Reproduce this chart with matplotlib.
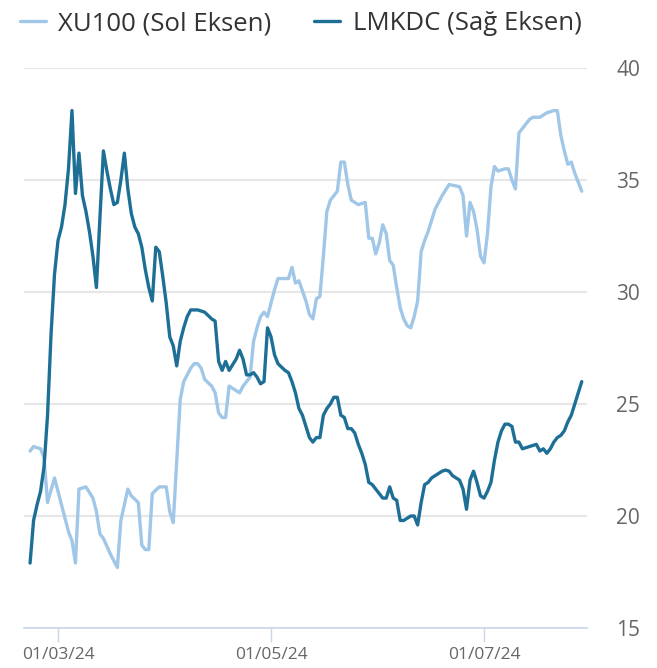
import pandas as pd
import matplotlib
matplotlib.use("Agg")
import matplotlib.pyplot as plt
import matplotlib.dates as mdates

# XU100 (left axis)
xu100_dates = [
    "2024-02-22", "2024-02-23", "2024-02-25", "2024-02-26", "2024-02-27", "2024-02-29",
    "2024-03-04", "2024-03-05", "2024-03-06", "2024-03-07", "2024-03-09", "2024-03-11",
    "2024-03-12", "2024-03-13", "2024-03-14", "2024-03-16", "2024-03-18", "2024-03-19",
    "2024-03-20", "2024-03-21", "2024-03-22", "2024-03-24", "2024-03-25", "2024-03-26",
    "2024-03-27", "2024-03-28", "2024-03-30", "2024-04-01", "2024-04-02", "2024-04-03",
    "2024-04-05", "2024-04-06", "2024-04-07", "2024-04-08", "2024-04-09", "2024-04-10",
    "2024-04-11", "2024-04-12", "2024-04-14", "2024-04-15", "2024-04-16", "2024-04-17",
    "2024-04-18", "2024-04-19", "2024-04-21", "2024-04-22", "2024-04-23", "2024-04-24",
    "2024-04-25", "2024-04-26", "2024-04-27", "2024-04-28", "2024-04-29", "2024-04-30",
    "2024-05-01", "2024-05-02", "2024-05-03", "2024-05-06", "2024-05-07", "2024-05-08",
    "2024-05-09", "2024-05-11", "2024-05-12", "2024-05-13", "2024-05-14", "2024-05-15",
    "2024-05-16", "2024-05-17", "2024-05-18", "2024-05-19", "2024-05-20", "2024-05-21",
    "2024-05-22", "2024-05-23", "2024-05-24", "2024-05-26", "2024-05-28", "2024-05-29",
    "2024-05-30", "2024-05-31", "2024-06-01", "2024-06-02", "2024-06-03", "2024-06-04",
    "2024-06-05", "2024-06-06", "2024-06-07", "2024-06-08", "2024-06-09", "2024-06-10",
    "2024-06-11", "2024-06-12", "2024-06-13", "2024-06-14", "2024-06-15", "2024-06-17",
    "2024-06-19", "2024-06-21", "2024-06-24", "2024-06-25", "2024-06-26", "2024-06-27",
    "2024-06-28", "2024-06-29", "2024-06-30", "2024-07-01", "2024-07-02", "2024-07-03",
    "2024-07-04", "2024-07-05", "2024-07-07", "2024-07-08", "2024-07-09", "2024-07-10",
    "2024-07-11", "2024-07-12", "2024-07-14", "2024-07-15", "2024-07-17", "2024-07-19",
    "2024-07-21", "2024-07-22", "2024-07-23", "2024-07-24", "2024-07-25", "2024-07-26",
    "2024-07-27", "2024-07-28", "2024-07-29",
]
xu100_values = [
    22.9, 23.1, 23.0, 22.6, 20.6, 21.7,
    19.3, 18.9, 17.9, 21.2, 21.3, 20.8,
    20.2, 19.2, 19.0, 18.3, 17.7, 19.8,
    20.5, 21.2, 20.9, 20.6, 18.7, 18.5,
    18.5, 21.0, 21.3, 21.3, 20.2, 19.7,
    25.2, 26.0, 26.3, 26.6, 26.8, 26.8,
    26.6, 26.1, 25.8, 25.5, 24.6, 24.4,
    24.4, 25.8, 25.6, 25.5, 25.8, 26.0,
    26.2, 27.8, 28.4, 28.9, 29.1, 28.9,
    29.5, 30.1, 30.6, 30.6, 31.1, 30.4,
    30.5, 29.6, 29.0, 28.8, 29.7, 29.8,
    31.6, 33.6, 34.1, 34.3, 34.5, 35.8,
    35.8, 34.8, 34.1, 33.9, 34.0, 32.4,
    32.4, 31.7, 32.2, 33.0, 32.6, 31.4,
    31.2, 30.2, 29.3, 28.8, 28.5, 28.4,
    28.9, 29.6, 31.8, 32.3, 32.7, 33.7,
    34.3, 34.8, 34.7, 34.3, 32.5, 34.0,
    33.6, 32.8, 31.6, 31.3, 32.6, 34.7,
    35.6, 35.4, 35.5, 35.5, 35.0, 34.6,
    37.1, 37.3, 37.7, 37.8, 37.8, 38.0,
    38.1, 38.1, 37.0, 36.3, 35.7, 35.8,
    35.3, 34.9, 34.5,
]

# LMKDC (right axis)
lmkdc_dates = [
    "2024-02-22", "2024-02-23", "2024-02-24", "2024-02-25", "2024-02-26", "2024-02-27",
    "2024-02-28", "2024-02-29", "2024-03-01", "2024-03-02", "2024-03-03", "2024-03-04",
    "2024-03-05", "2024-03-06", "2024-03-07", "2024-03-08", "2024-03-09", "2024-03-10",
    "2024-03-11", "2024-03-12", "2024-03-13", "2024-03-14", "2024-03-15", "2024-03-16",
    "2024-03-17", "2024-03-18", "2024-03-19", "2024-03-20", "2024-03-21", "2024-03-22",
    "2024-03-23", "2024-03-24", "2024-03-25", "2024-03-26", "2024-03-27", "2024-03-28",
    "2024-03-29", "2024-03-30", "2024-03-31", "2024-04-01", "2024-04-02", "2024-04-03",
    "2024-04-04", "2024-04-05", "2024-04-06", "2024-04-07", "2024-04-08", "2024-04-10",
    "2024-04-12", "2024-04-14", "2024-04-15", "2024-04-16", "2024-04-17", "2024-04-18",
    "2024-04-19", "2024-04-21", "2024-04-22", "2024-04-23", "2024-04-24", "2024-04-25",
    "2024-04-26", "2024-04-27", "2024-04-28", "2024-04-29", "2024-04-30", "2024-05-01",
    "2024-05-02", "2024-05-03", "2024-05-05", "2024-05-06", "2024-05-07", "2024-05-08",
    "2024-05-09", "2024-05-10", "2024-05-11", "2024-05-12", "2024-05-13", "2024-05-14",
    "2024-05-15", "2024-05-16", "2024-05-17", "2024-05-18", "2024-05-19", "2024-05-20",
    "2024-05-21", "2024-05-22", "2024-05-23", "2024-05-24", "2024-05-25", "2024-05-26",
    "2024-05-27", "2024-05-28", "2024-05-29", "2024-05-30", "2024-05-31", "2024-06-01",
    "2024-06-02", "2024-06-03", "2024-06-04", "2024-06-05", "2024-06-06", "2024-06-07",
    "2024-06-08", "2024-06-09", "2024-06-10", "2024-06-11", "2024-06-12", "2024-06-13",
    "2024-06-14", "2024-06-15", "2024-06-16", "2024-06-17", "2024-06-19", "2024-06-20",
    "2024-06-21", "2024-06-22", "2024-06-24", "2024-06-25", "2024-06-26", "2024-06-27",
    "2024-06-28", "2024-06-29", "2024-06-30", "2024-07-01", "2024-07-02", "2024-07-03",
    "2024-07-04", "2024-07-05", "2024-07-06", "2024-07-07", "2024-07-08", "2024-07-09",
    "2024-07-10", "2024-07-11", "2024-07-12", "2024-07-14", "2024-07-16", "2024-07-17",
    "2024-07-18", "2024-07-19", "2024-07-20", "2024-07-21", "2024-07-22", "2024-07-23",
    "2024-07-24", "2024-07-25", "2024-07-26", "2024-07-27", "2024-07-28", "2024-07-29",
]
lmkdc_values = [
    17.9, 19.8, 20.5, 21.1, 22.2, 24.5,
    28.1, 30.8, 32.3, 32.9, 33.9, 35.5,
    38.1, 34.4, 36.2, 34.3, 33.6, 32.7,
    31.6, 30.2, 33.3, 36.3, 35.4, 34.6,
    33.9, 34.0, 35.0, 36.2, 34.6, 33.5,
    32.9, 32.6, 32.0, 31.0, 30.2, 29.6,
    32.0, 31.8, 30.7, 29.5, 28.0, 27.6,
    26.7, 27.8, 28.4, 28.9, 29.2, 29.2,
    29.1, 28.8, 28.7, 26.9, 26.5, 26.9,
    26.5, 27.0, 27.4, 27.0, 26.3, 26.3,
    26.4, 26.2, 25.9, 26.0, 28.4, 28.0,
    27.2, 26.8, 26.5, 26.4, 26.0, 25.5,
    24.8, 24.5, 24.0, 23.5, 23.3, 23.5,
    23.5, 24.5, 24.8, 25.0, 25.3, 25.3,
    24.5, 24.4, 23.9, 23.9, 23.7, 23.2,
    22.8, 22.3, 21.5, 21.4, 21.2, 21.0,
    20.8, 20.8, 21.3, 20.8, 20.7, 19.8,
    19.8, 19.9, 20.0, 20.0, 19.6, 20.6,
    21.4, 21.5, 21.7, 21.8, 22.0, 22.05,
    22.0, 21.8, 21.6, 21.2, 20.3, 21.6,
    22.0, 21.5, 20.9, 20.8, 21.1, 21.5,
    22.5, 23.3, 23.8, 24.1, 24.1, 24.0,
    23.3, 23.3, 23.0, 23.1, 23.2, 22.9,
    23.0, 22.8, 23.0, 23.3, 23.5, 23.6,
    23.8, 24.2, 24.5, 25.0, 25.5, 26.0,
]

yticks = [15, 20, 25, 30, 35, 40]
xticks = ["2024-03-01", "2024-05-01", "2024-07-01"]

light = "#a0c6e8"
dark = "#1e6f96"

fig = plt.figure(figsize=(6.57, 6.68), dpi=100)
ax = fig.add_axes([24 / 657, 40 / 668, 563 / 657, 560 / 668])

ax.plot(pd.to_datetime(xu100_dates), xu100_values, color=light, lw=2.4,
        solid_joinstyle="round", solid_capstyle="round", label="XU100 (Sol Eksen)")
ax.plot(pd.to_datetime(lmkdc_dates), lmkdc_values, color=dark, lw=2.4,
        solid_joinstyle="round", solid_capstyle="round", label="LMKDC (Sağ Eksen)")

start = pd.Timestamp("2024-03-01")
ax.set_xlim(start - pd.Timedelta(days=9.74), start + pd.Timedelta(days=151.5))
ax.set_ylim(15, 40)

ax.yaxis.tick_right()
ax.set_yticks(yticks)
ax.tick_params(axis="y", length=0, pad=21, labelsize=15, labelcolor="#666666")
ax.grid(axis="y", color="#e6e6e6", lw=1.5)
ax.set_axisbelow(True)

ax.set_xticks(pd.to_datetime(xticks))
ax.xaxis.set_major_formatter(mdates.DateFormatter("%d/%m/%y"))
ax.tick_params(axis="x", length=10, width=1, color="#ccd6eb", pad=4,
               labelsize=12.5, labelcolor="#666666")

for s in ["top", "left", "right"]:
    ax.spines[s].set_visible(False)
ax.spines["bottom"].set_color("#ccd6eb")
ax.spines["bottom"].set_linewidth(1.2)

for t in ax.get_xticklabels() + ax.get_yticklabels():
    t.set_fontfamily("Open Sans")

fig.legend(loc="upper left", bbox_to_anchor=(-0.005, 1.018), ncol=2, frameon=False,
           prop={"family": "Open Sans", "size": 18.5}, labelcolor="#333333",
           handlelength=1.0, handletextpad=0.5, columnspacing=1.66)

fig.savefig("out.png", dpi=100)
